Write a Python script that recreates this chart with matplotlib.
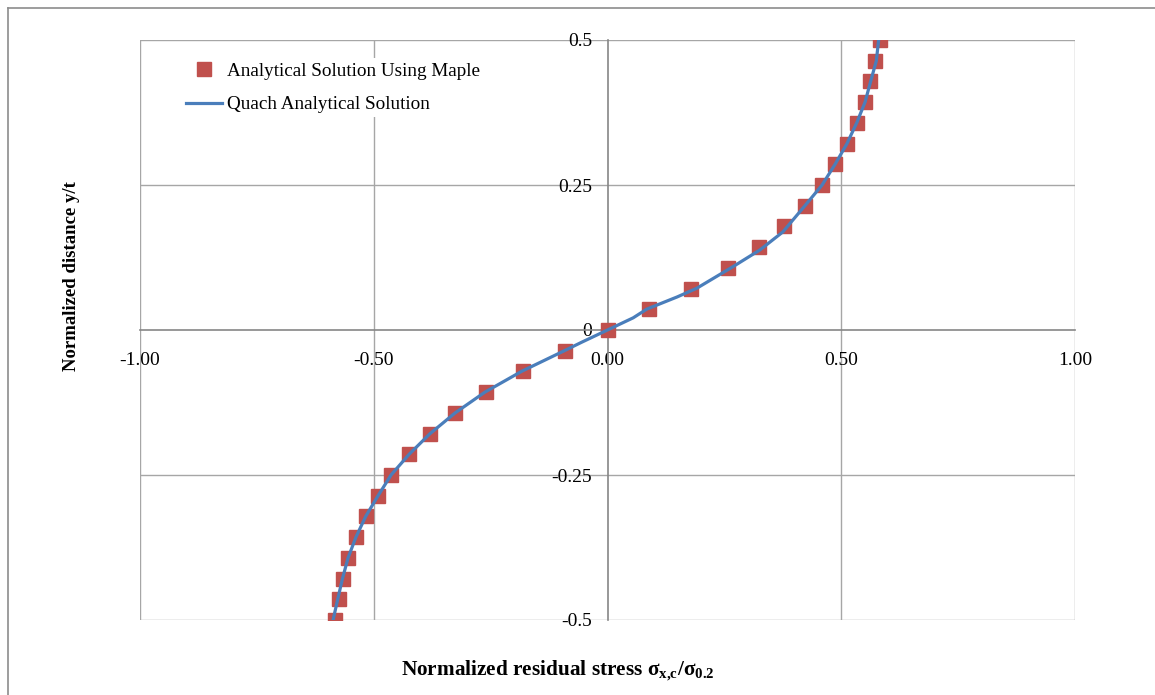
import matplotlib
matplotlib.use("Agg")
import matplotlib.pyplot as plt
from matplotlib.lines import Line2D

# Data
y_vals = [-0.5, -0.464, -0.429, -0.393, -0.357, -0.321, -0.286, -0.25, -0.214, -0.179,
          -0.143, -0.107, -0.071, -0.036, 0.0, 0.036, 0.071, 0.107, 0.143, 0.179,
          0.214, 0.25, 0.286, 0.321, 0.357, 0.393, 0.429, 0.464, 0.5]
maple_x = [-0.583, -0.574, -0.566, -0.555, -0.538, -0.517, -0.491, -0.463, -0.424, -0.380,
           -0.326, -0.260, -0.181, -0.091, 0.0, 0.089, 0.178, 0.258, 0.324, 0.378,
           0.422, 0.459, 0.487, 0.512, 0.533, 0.551, 0.561, 0.572, 0.583]
quach_y = [-0.5, -0.464, -0.429, -0.393, -0.357, -0.321, -0.286, -0.25, -0.214, -0.179,
           -0.143, -0.107, -0.071, -0.036, -0.021, 0.0, 0.021, 0.036, 0.057, 0.072,
           0.109, 0.138, 0.169, 0.214, 0.25, 0.286, 0.321, 0.357, 0.393, 0.429, 0.464, 0.5]
quach_x = [-0.587, -0.577, -0.567, -0.555, -0.538, -0.517, -0.491, -0.463, -0.424, -0.380,
           -0.326, -0.262, -0.183, -0.093, -0.055, 0.0, 0.055, 0.084, 0.149, 0.191,
           0.268, 0.326, 0.375, 0.422, 0.459, 0.487, 0.512, 0.533, 0.551, 0.563, 0.575, 0.580]

x_ticks = [-1.0, -0.5, 0.0, 0.5, 1.0]
x_labels = ["-1.00", "-0.50", "0.00", "0.50", "1.00"]
y_ticks = [-0.5, -0.25, 0.0, 0.25, 0.5]
y_labels = ["-0.5", "-0.25", "0", "0.25", "0.5"]

plt.rcParams['font.family'] = ['Liberation Serif', 'DejaVu Serif']
plt.rcParams['mathtext.fontset'] = 'custom'
plt.rcParams['mathtext.rm'] = 'Liberation Serif'
plt.rcParams['mathtext.bf'] = 'Liberation Serif:bold'
plt.rcParams['mathtext.it'] = 'Liberation Serif:italic'

W, H = 1155, 695
fig = plt.figure(figsize=(W / 100, H / 100), dpi=100)
ax = fig.add_axes([140 / W, 1 - 620 / H, (1075 - 140) / W, (620 - 40) / H])

ax.set_xlim(-1, 1)
ax.set_ylim(-0.5, 0.5)

grid_c = '#a6a6a6'
for xv in x_ticks:
    if xv != 0:
        ax.axvline(xv, color=grid_c, lw=1.0, zorder=0)
for yv in y_ticks:
    if yv != 0:
        ax.axhline(yv, color=grid_c, lw=1.0, zorder=0)

for s in ['top', 'right']:
    ax.spines[s].set_visible(False)
ax.spines['left'].set_position(('data', 0))
ax.spines['bottom'].set_position(('data', 0))
ax.spines['left'].set_color('#868686')
ax.spines['bottom'].set_color('#868686')
ax.spines['left'].set_linewidth(1.2)
ax.spines['bottom'].set_linewidth(1.2)

ax.set_xticks(x_ticks)
ax.set_xticklabels(x_labels)
ax.set_yticks(y_ticks)
ax.set_yticklabels(y_labels)
ax.tick_params(axis='both', length=0, labelsize=14, colors='black')
ax.tick_params(axis='x', pad=16)
ax.tick_params(axis='y', pad=11)

ax.plot(maple_x, y_vals, linestyle='none', marker='s', markersize=9.5,
        color='#C0504D', markeredgecolor='#C0504D', zorder=3)
ax.plot(quach_x, quach_y, color='#4A7EBB', lw=2.3, zorder=4)

handles = [Line2D([], [], linestyle='none', marker='s', markersize=9.5, color='#C0504D'),
           Line2D([], [], color='#4A7EBB', lw=2.3)]
leg = ax.legend(handles, ["Analytical Solution Using Maple", "Quach Analytical Solution"],
                loc='upper left', bbox_to_anchor=(0.035, 0.985), fontsize=13.8,
                frameon=True, facecolor='white', edgecolor='none', framealpha=1,
                handlelength=1.85, handletextpad=0.3, labelspacing=0.85, borderpad=0.2)
leg.set_zorder(5)

fig.text(558 / W, 1 - 671 / H,
         r"Normalized residual stress $\mathbf{σ_{x{,}c}/σ_{0.2}}$",
         ha='center', va='center', fontsize=15.3, fontweight='bold')
fig.text(72 / W, 1 - 276 / H, "Normalized distance y/t", rotation=90,
         ha='center', va='center', fontsize=13.5, fontweight='bold')

# outer chart frame (left and top edges visible)
fig.add_artist(Line2D([7.5 / W, 7.5 / W], [0, 1 - 7.5 / H], color='#8c8c8c', lw=1.2,
                      transform=fig.transFigure))
fig.add_artist(Line2D([7.5 / W, 1], [1 - 7.5 / H, 1 - 7.5 / H], color='#8c8c8c', lw=1.2,
                      transform=fig.transFigure))

fig.savefig("out.png", dpi=100, facecolor='white')
